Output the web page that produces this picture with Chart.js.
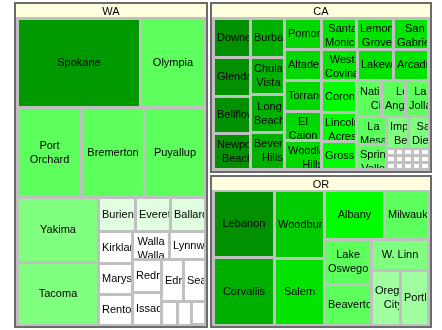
<!DOCTYPE html>
<html lang="en">
<head>
<meta charset="UTF-8">
<title>Cities treemap</title>
<script src="https://cdn.jsdelivr.net/npm/chart.js"></script>
<style>
  body { margin: 0; background: #fff; }
  #wrap { width: 442px; height: 330px; }
</style>
</head>
<body>
<div id="wrap"><canvas id="treemap"></canvas></div>
<script>
// groups, in data order
const stateNames = ['WA', 'CA', 'OR'];

// Washington: size = cell area, score = colour value (0..1)
const waCities = ['Spokane', 'Olympia', 'Port Orchard', 'Bremerton', 'Puyallup', 'Yakima', 'Tacoma',
  'Burien', 'Everett', 'Ballard', 'Kirkland', 'Marysville', 'Renton', 'Walla Walla', 'Lynnwood',
  'Redmond', 'Issaquah', 'Edmonds', 'Seattle', 'Kent', 'Auburn', 'Pasco'];
const waSizes = [1225, 645, 641, 631, 611, 588, 565, 143, 135, 134, 118, 120, 114, 114, 110,
  107, 106, 105, 100, 43, 37, 37];
const waScores = [0.9, 0.4, 0.4, 0.4, 0.4, 0.3, 0.3, 0.1, 0.1, 0.1, 0, 0, 0, 0, 0,
  0, 0, 0, 0, 0, 0, 0];

// California
const caCities = ['Downey', 'Glendale', 'Bellflower', 'Newport Beach', 'Burbank', 'Chula Vista', 'Long Beach', 'Beverly Hills',
  'Pomona', 'Santa Monica', 'Lemon Grove', 'San Gabriel', 'Altadena', 'Torrance', 'El Cajon', 'Woodland Hills',
  'West Covina', 'Lakewood', 'Arcadia', 'Coronado', 'Lincoln Acres', 'Grossmont',
  'National City', 'Los Angeles', 'La Jolla', 'La Mesa', 'Spring Valley', 'Imperial Beach', 'San Diego',
  'Alhambra', 'Azusa', 'Carson', 'Compton', 'Covina', 'Cypress', 'Encinitas', 'Escondido',
  'Gardena', 'Hawthorne', 'Inglewood', 'Lawndale', 'Montebello', 'Norwalk', 'Poway'];
const caSizes = [173, 169, 162, 159, 159, 154, 153, 152,
  137, 130, 138, 134, 132, 134, 127, 127,
  130, 130, 130, 133, 118, 114,
  107, 102, 102, 102, 91, 83, 77,
  7, 7, 7, 7, 7, 7, 7, 7, 7, 7, 7, 7, 7, 7, 7];
const caScores = [1, 1, 1, 1, 0.8, 0.8, 0.8, 0.8,
  0.65, 0.6, 0.6, 0.6, 0.65, 0.65, 0.65, 0.65,
  0.6, 0.6, 0.6, 0.5, 0.5, 0.5,
  0.4, 0.4, 0.4, 0.4, 0.4, 0.3, 0.3,
  0, 0, 0, 0, 0, 0, 0, 0, 0, 0, 0, 0, 0, 0, 0];

// Oregon
const orCities = ['Lebanon', 'Corvallis', 'Woodburn', 'Salem', 'Albany', 'Milwaukie', 'Lake Oswego',
  'Beaverton', 'W. Linn', 'Oregon City', 'Portland'];
const orSizes = [490, 489, 409, 398, 348, 260, 253, 231, 219, 190, 185];
const orScores = [1, 0.8, 0.7, 0.6, 0.5, 0.4, 0.4, 0.4, 0.3, 0.2, 0.2];

// colour scale for the score
const colorStops = [
  [0.0, '#ffffff'], [0.1, '#e0ffe0'], [0.2, '#a0ffa0'], [0.3, '#80ff80'], [0.4, '#5cff5c'],
  [0.5, '#00ff00'], [0.6, '#00e400'], [0.65, '#00d800'], [0.7, '#00cc00'], [0.8, '#00b000'],
  [0.9, '#009900'], [1.0, '#009000']
];

const groups = [
  { name: stateNames[0], cities: waCities, sizes: waSizes, scores: waScores },
  { name: stateNames[1], cities: caCities, sizes: caSizes, scores: caScores },
  { name: stateNames[2], cities: orCities, sizes: orSizes, scores: orScores }
];

// treemap extent in axis units, and frame styling
const TREE_W = 420, TREE_H = 328;
const GROUP_GAP = 1, BORDER = 2, HEADER = 13, PAD = 1, CELL_INSET = 1.5;
const FONT = '11px "Liberation Sans", Arial, sans-serif';
const LINE_H = 14;

function sum(a) { return a.reduce((s, v) => s + v, 0); }

function colorFor(score) {
  let c = colorStops[0][1];
  for (const [t, col] of colorStops) if (score >= t - 1e-9) c = col;
  return c;
}

function worst(row, side) {
  const s = sum(row), mx = Math.max(...row), mn = Math.min(...row);
  return Math.max(side * side * mx / (s * s), s * s / (side * side * mn));
}

// squarified layout, items kept in data order
function squarify(values, rect) {
  const scale = rect.w * rect.h / sum(values);
  const areas = values.map(v => v * scale);
  const out = [];
  let { x, y, w, h } = rect;
  let i = 0;
  while (i < areas.length) {
    const side = Math.min(w, h);
    const row = [areas[i]];
    let best = worst(row, side);
    let j = i + 1;
    while (j < areas.length) {
      const next = worst(row.concat(areas[j]), side);
      if (next > best) break;
      row.push(areas[j]); best = next; j++;
    }
    const s = sum(row);
    if (w < h) {
      const rh = s / w; let cx = x;
      row.forEach(a => { const cw = a / rh; out.push({ x: cx, y: y, w: cw, h: rh }); cx += cw; });
      y += rh; h -= rh;
    } else {
      const cw = s / h; let cy = y;
      row.forEach(a => { const ch = a / cw; out.push({ x: x, y: cy, w: cw, h: ch }); cy += ch; });
      x += cw; w -= cw;
    }
    i = j;
  }
  return out;
}

function inset(r, d) { return { x: r.x + d, y: r.y + d, w: r.w - 2 * d, h: r.h - 2 * d }; }

function drawLabel(ctx, text, b) {
  const w = b.x1 - b.x0, h = b.y1 - b.y0;
  if (w < 15 || h < 10) return;
  ctx.font = FONT;
  const lines = [];
  let line = '';
  text.split(' ').forEach(word => {
    const test = line ? line + ' ' + word : word;
    if (line && ctx.measureText(test).width > w - 4) { lines.push(line); line = word; }
    else line = test;
  });
  lines.push(line);
  const widths = lines.map(l => ctx.measureText(l).width);
  const blockW = Math.max(...widths), blockH = lines.length * LINE_H;
  const bx = Math.max(b.x0 + 2, (b.x0 + b.x1) / 2 - blockW / 2);
  const by = Math.max(b.y0 + 2, (b.y0 + b.y1) / 2 - blockH / 2);
  ctx.save();
  ctx.beginPath();
  ctx.rect(b.x0, b.y0, w, h);
  ctx.clip();
  ctx.fillStyle = '#000';
  ctx.textAlign = 'left';
  ctx.textBaseline = 'middle';
  lines.forEach((l, k) => ctx.fillText(l, bx + (blockW - widths[k]) / 2, by + LINE_H / 2 + k * LINE_H));
  ctx.restore();
}

const treemapPlugin = {
  id: 'treemap',
  afterDraw(chart) {
    const ctx = chart.ctx;
    const xs = chart.scales.x, ys = chart.scales.y;
    const box = r => ({
      x0: Math.round(xs.getPixelForValue(r.x)), x1: Math.round(xs.getPixelForValue(r.x + r.w)),
      y0: Math.round(ys.getPixelForValue(r.y)), y1: Math.round(ys.getPixelForValue(r.y + r.h))
    });
    const fill = (r, color) => {
      const b = box(r);
      ctx.fillStyle = color;
      ctx.fillRect(b.x0, b.y0, b.x1 - b.x0, b.y1 - b.y0);
      return b;
    };

    const groupRects = squarify(groups.map(g => sum(g.sizes)), { x: 0, y: 0, w: TREE_W, h: TREE_H });
    groups.forEach((g, gi) => {
      const outer = inset(groupRects[gi], GROUP_GAP);
      fill(outer, '#6b6b6b');
      const inner = inset(outer, BORDER);
      fill(inner, '#c0c0c0');
      const hb = fill({ x: inner.x, y: inner.y, w: inner.w, h: HEADER }, '#ffffe0');
      ctx.font = FONT;
      ctx.fillStyle = '#000';
      ctx.textAlign = 'center';
      ctx.textBaseline = 'middle';
      ctx.fillText(g.name, (hb.x0 + hb.x1) / 2, (hb.y0 + hb.y1) / 2 + 1);

      const content = { x: inner.x + PAD, y: inner.y + HEADER + PAD, w: inner.w - 2 * PAD, h: inner.h - HEADER - 2 * PAD };
      const cells = squarify(g.sizes, content);
      cells.forEach((c, ci) => {
        const b = fill(inset(c, CELL_INSET), colorFor(g.scores[ci]));
        drawLabel(ctx, g.cities[ci], b);
      });
    });
  }
};

new Chart(document.getElementById('treemap'), {
  type: 'scatter',
  data: { datasets: [] },
  options: {
    responsive: true,
    maintainAspectRatio: false,
    animation: false,
    events: [],
    layout: { padding: 0 },
    plugins: { legend: { display: false }, tooltip: { enabled: false } },
    scales: {
      x: { type: 'linear', display: false, min: -13, max: 429 },
      y: { type: 'linear', display: false, reverse: true, min: -1, max: 329 }
    }
  },
  plugins: [treemapPlugin]
});
</script>
</body>
</html>
